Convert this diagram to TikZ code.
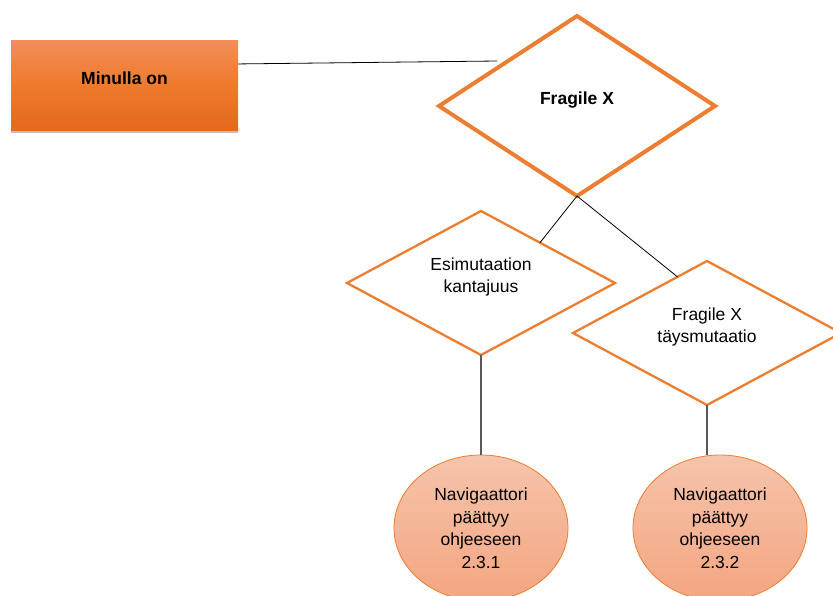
\documentclass[tikz,border=0pt]{standalone}
\usepackage{fontspec}
\setmainfont{Liberation Sans}
\usetikzlibrary{shapes.geometric,shadows,calc}

\definecolor{accent}{HTML}{ED7D31}
\definecolor{boxtop}{HTML}{F18E5A}
\definecolor{boxmid}{HTML}{F07A2C}
\definecolor{boxbot}{HTML}{E3691C}
\definecolor{balltop}{HTML}{F6C4AC}
\definecolor{ballbot}{HTML}{F4A580}
\definecolor{stem}{HTML}{595959}

\tikzset{
  txt/.style={font=\fontsize{17.5}{22.5}\selectfont, align=center, inner sep=0pt},
  boldtxt/.style={txt, font=\fontsize{17.5}{22.5}\selectfont\bfseries},
  startbox/.style={draw=none, minimum width=227pt, minimum height=90pt,
    top color=boxtop, bottom color=boxbot, middle color=boxmid,
    drop shadow={shadow xshift=0pt, shadow yshift=-3pt, opacity=0.35, fill=black!70}},
  bigdecision/.style={diamond, draw=accent, line width=4pt, fill=white,
    minimum width=276pt, minimum height=180pt, inner sep=0pt, outer sep=0pt},
  decision/.style={diamond, draw=accent, line width=2.3pt, fill=white,
    minimum width=268pt, minimum height=144pt, inner sep=0pt, outer sep=0pt},
  endball/.style={ellipse, draw=accent, line width=0.8pt,
    top color=balltop, bottom color=ballbot,
    minimum width=174pt, minimum height=146pt, inner sep=0pt, outer sep=0pt,
    font=\fontsize{17.5}{22.5}\selectfont, align=center},
  link/.style={draw=black, line width=0.8pt},
  droplink/.style={draw=stem, line width=1.3pt},
}

\begin{document}
\begin{tikzpicture}[x=1pt, y=-1pt]
  \clip (0,0) rectangle (833,595);
  \fill[white] (0,0) rectangle (833,595);

  % starting box
  \node[startbox] (start) at (124.5,85) {};
  \node[boldtxt] (starttext) at (124.5,78) {Minulla on};

  % main question
  \node[bigdecision] (fx) at (577,106) {};
  \node[boldtxt] (fxtext) at (577,100) {Fragile X};

  % two outcomes
  \node[decision] (pre) at (481,283) {};
  \node[txt] (pretext) at (481,277) {Esimutaation\\kantajuus};
  \node[decision] (full) at (707,333) {};
  \node[txt] (fulltext) at (707,327) {Fragile X\\täysmutaatio};

  % end points
  \node[endball] (endA) at (481,528) {Navigaattori\\päättyy\\ohjeeseen\\2.3.1};
  \node[endball] (endB) at (720,528) {Navigaattori\\päättyy\\ohjeeseen\\2.3.2};

  % connectors
  \coordinate (fxin) at (497,61);
  \draw[link] ($(start.north east)!0.267!(start.south east)$) -- (fxin);
  \draw[link] (fx.south) -- ($(pre.north)!0.44!(pre.east)$);
  \draw[link] (fx.south) -- ($(full.north)!0.22!(full.west)$);
  \draw[droplink] (pre.south) -- (endA.north);
  \draw[droplink] (full.south) -- (full.south |- endA.north);
\end{tikzpicture}
\end{document}
